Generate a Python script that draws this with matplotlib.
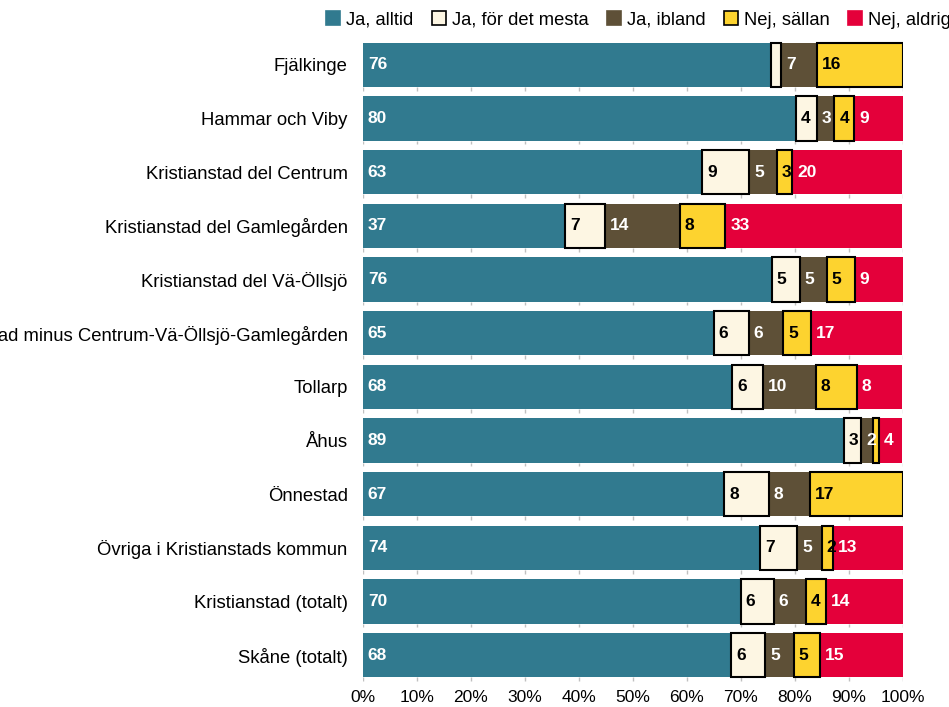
import numpy as np
import matplotlib
matplotlib.use("Agg")
import matplotlib.pyplot as plt
from matplotlib.patches import Patch

plt.rcParams['font.family'] = ['Liberation Sans', 'DejaVu Sans']

omraden = [
    "Fjälkinge",
    "Hammar och Viby",
    "Kristianstad del Centrum",
    "Kristianstad del Gamlegården",
    "Kristianstad del Vä-Öllsjö",
    "Kristianstad minus Centrum-Vä-Öllsjö-Gamlegården",
    "Tollarp",
    "Åhus",
    "Önnestad",
    "Övriga i Kristianstads kommun",
    "Kristianstad (totalt)",
    "Skåne (totalt)",
]
svar = ["Ja, alltid", "Ja, för det mesta", "Ja, ibland", "Nej, sällan", "Nej, aldrig"]

ja_alltid = [75.6, 80.2, 62.8, 37.4, 75.7, 65.0, 68.4, 89.1, 66.9, 73.6, 70.0, 68.2]
ja_mesta = [1.8, 3.8, 8.7, 7.4, 5.2, 6.4, 5.7, 3.2, 8.3, 6.8, 6.1, 6.3]
ja_ibland = [6.7, 3.3, 5.2, 13.9, 5.0, 6.4, 9.8, 2.1, 7.6, 4.6, 5.9, 5.3]
nej_sallan = [15.9, 3.7, 2.8, 8.4, 5.2, 5.2, 7.6, 1.1, 17.2, 2.1, 3.7, 4.8]
nej_aldrig = [0.0, 9.1, 20.4, 32.7, 9.0, 16.9, 8.3, 4.4, 0.0, 13.1, 14.3, 15.4]

serier = [ja_alltid, ja_mesta, ja_ibland, nej_sallan, nej_aldrig]
farger = ["#317a8f", "#fdf6e3", "#5e5037", "#fdd32f", "#e4003a"]
kanter = [None, "black", None, "black", None]
textfarg = ["white", "black", "white", "black", "white"]

fig = plt.figure(figsize=(9.49, 7.07), dpi=100)
ax = fig.add_axes([363 / 949, 1 - 682 / 707, 540 / 949, 644 / 707])

y = np.arange(len(omraden))
hojd = 0.82
vanster = np.zeros(len(omraden))

# små streck vid varje radgräns
for i in y:
    ax.vlines(np.arange(0, 101, 10), i + hojd / 2, i + hojd / 2 + 0.07,
              color="#c0c0c0", lw=1, zorder=0)

for k, (data, farg) in enumerate(zip(serier, farger)):
    data = np.array(data)
    if kanter[k]:
        ax.barh(y, data, left=vanster, height=hojd, color=farg,
                edgecolor=kanter[k], linewidth=1.5, zorder=3)
    else:
        ax.barh(y, data, left=vanster, height=hojd, color=farg,
                linewidth=0, zorder=2)
    for i, v in enumerate(data):
        if v >= 1.95:
            ax.text(vanster[i] + 0.9, i, f"{round(v)}", ha="left", va="center",
                    color=textfarg[k], fontsize=12.5, fontweight="bold", zorder=5)
    vanster += data

ax.set_xlim(0, 100)
ax.set_ylim(len(omraden) - 0.5, -0.5)
ax.set_yticks(y)
ax.set_yticklabels(omraden, fontsize=13.3)
ax.set_xticks(np.arange(0, 101, 10))
ax.set_xticklabels([f"{t}%" for t in range(0, 101, 10)], fontsize=12.5)
ax.tick_params(axis="both", length=0)
ax.tick_params(axis="y", pad=11)
ax.tick_params(axis="x", pad=6)
for s in ax.spines.values():
    s.set_visible(False)

handtag = [Patch(facecolor=f, edgecolor=(e if e else f), linewidth=1.2)
           for f, e in zip(farger, kanter)]
fig.legend(handtag, svar, loc="center left", bbox_to_anchor=(326 / 949, 1 - 20 / 707),
           ncol=5, frameon=False, fontsize=13.2, handlelength=0.75, handleheight=0.75,
           handletextpad=0.35, columnspacing=1.0, borderaxespad=0, borderpad=0)

fig.savefig("out.png", dpi=100)
